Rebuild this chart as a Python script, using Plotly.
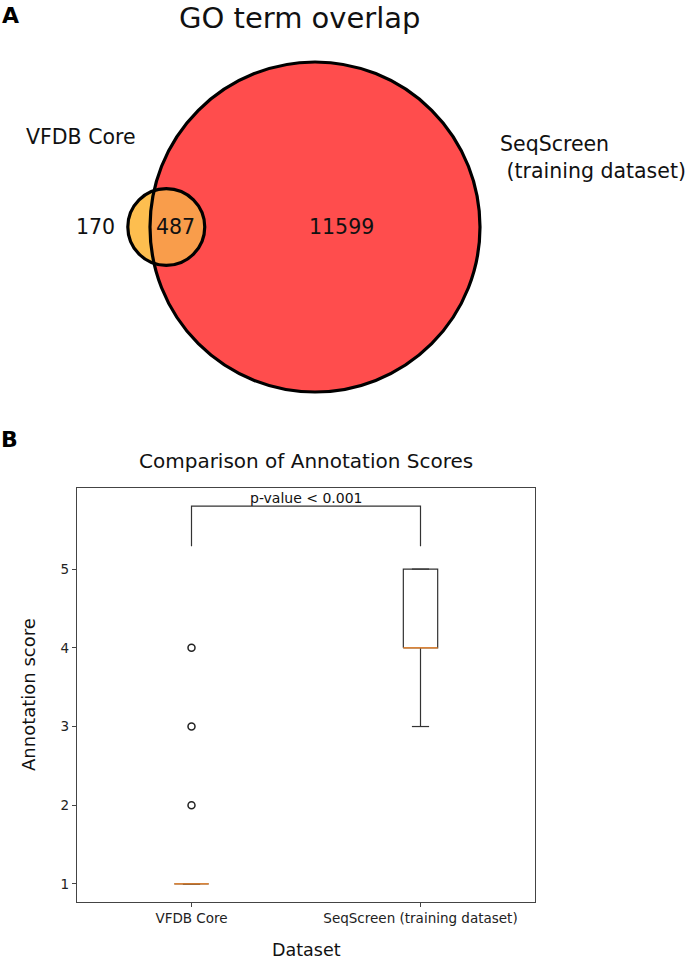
import numpy as np
import plotly.graph_objects as go

# ---------------- data ----------------
venn_title = "GO term overlap"
set_names = ["VFDB Core", "SeqScreen<br>&nbsp;(training dataset)"]
only_a = 170          # VFDB Core only
both = 487            # shared
only_b = 11599        # SeqScreen only

box_title = "Comparison of Annotation Scores"
datasets = ["VFDB Core", "SeqScreen (training dataset)"]
positions = [1, 2]
q1 = [1, 4]
median = [1, 4]
q3 = [1, 5]
whisker_low = [1, 3]
whisker_high = [1, 5]
outliers = [[2, 3, 4], []]
y_ticks = [1, 2, 3, 4, 5]
p_text = "p-value < 0.001"
bracket_low, bracket_high = 5.29, 5.8

FONT = "DejaVu Sans"
W, H = 685, 960

# ---------------- venn geometry (area proportional) ----------------
ra = np.sqrt((only_a + both) / np.pi)
rb = np.sqrt((only_b + both) / np.pi)


def lens_area(d):
    a1 = ra**2 * np.arccos(np.clip((d**2 + ra**2 - rb**2) / (2 * d * ra), -1, 1))
    a2 = rb**2 * np.arccos(np.clip((d**2 + rb**2 - ra**2) / (2 * d * rb), -1, 1))
    t = (-d + ra + rb) * (d + ra - rb) * (d - ra + rb) * (d + ra + rb)
    return a1 + a2 - 0.5 * np.sqrt(max(t, 0))


lo, hi = rb - ra + 1e-9, rb + ra - 1e-9
for _ in range(200):
    mid = 0.5 * (lo + hi)
    if lens_area(mid) > both:
        lo = mid
    else:
        hi = mid
d = 0.5 * (lo + hi)
xa, xb = -d, 0.0

# lens outline
xi = (ra**2 - rb**2 - d**2) / (2 * d)
yi = np.sqrt(rb**2 - xi**2)
tb = np.arctan2(yi, xi)
ang_b = np.linspace(tb, 2 * np.pi - tb, 80)
ang_a0 = np.arctan2(-yi, xi - xa)
ang_a = np.linspace(ang_a0, -ang_a0, 80)
lx = np.concatenate([xb + rb * np.cos(ang_b), xa + ra * np.cos(ang_a)])
ly = np.concatenate([rb * np.sin(ang_b), ra * np.sin(ang_a)])
lens_path = "M " + " L ".join(f"{x:.4f},{y:.4f}" for x, y in zip(lx, ly)) + " Z"

k = 165.0 / rb  # px per unit
cx_px, cy_px, top_h = 315.0, 227.0, 420.0

fig = go.Figure()

fig.add_trace(go.Scatter(x=[0], y=[0], mode="markers", marker=dict(opacity=0),
                         xaxis="x", yaxis="y", hoverinfo="skip", showlegend=False))

shapes = [
    dict(type="circle", xref="x", yref="y", x0=xb - rb, x1=xb + rb, y0=-rb, y1=rb,
         fillcolor="#FF4D4D", line=dict(width=0), layer="below"),
    dict(type="circle", xref="x", yref="y", x0=xa - ra, x1=xa + ra, y0=-ra, y1=ra,
         fillcolor="#FDBE4F", line=dict(width=0), layer="below"),
    dict(type="path", xref="x", yref="y", path=lens_path,
         fillcolor="#F99D4B", line=dict(width=0), layer="below"),
    dict(type="circle", xref="x", yref="y", x0=xb - rb, x1=xb + rb, y0=-rb, y1=rb,
         line=dict(color="black", width=3.2), layer="above"),
    dict(type="circle", xref="x", yref="y", x0=xa - ra, x1=xa + ra, y0=-ra, y1=ra,
         line=dict(color="black", width=3.2), layer="above"),
]


def px(x, y):
    """reference-pixel -> paper coordinates"""
    return x / W, 1 - y / H


def text_ann(x, y, text, size, **kw):
    xx, yy = px(x, y)
    base = dict(x=xx, y=yy, xref="paper", yref="paper", text=text, showarrow=False,
                xanchor="center", yanchor="middle",
                font=dict(family=FONT, size=size, color="#111"))
    base.update(kw)
    return base


VS = 20.5
ann = []
ann.append(dict(x=xa - ra - 32 / k, y=0, xref="x", yref="y", text=str(only_a), showarrow=False,
                xanchor="center", yanchor="middle", font=dict(family=FONT, size=VS, color="#111")))
ann.append(dict(x=xa + ra * 0.25, y=0, xref="x", yref="y", text=str(both), showarrow=False,
                xanchor="center", yanchor="middle", font=dict(family=FONT, size=VS, color="#111")))
ann.append(dict(x=26 / k, y=0, xref="x", yref="y", text=str(only_b), showarrow=False,
                xanchor="center", yanchor="middle", font=dict(family=FONT, size=VS, color="#111")))
ann.append(text_ann(81, 137, set_names[0], VS))
ann.append(text_ann(498, 158, set_names[1], VS, xanchor="left", align="left"))
ann.append(text_ann(300, 0, venn_title, 29, yanchor="top", borderpad=0))
ann.append(text_ann(10, 15, "<b>A</b>", 22, font=dict(family=FONT, size=22, color="#000")))
ann.append(text_ann(9, 439, "<b>B</b>", 22, font=dict(family=FONT, size=22, color="#000")))

# ---------------- box plot ----------------
LC = "#333333"
w = 0.075
bx, by, wx, wy, cxs, cys, mx, my = [], [], [], [], [], [], [], []
ox, oy = [], []
for i, p in enumerate(positions):
    bx += [p - w, p + w, p + w, p - w, p - w, None]
    by += [q1[i], q1[i], q3[i], q3[i], q1[i], None]
    wx += [p, p, None, p, p, None]
    wy += [q1[i], whisker_low[i], None, q3[i], whisker_high[i], None]
    cxs += [p - w / 2, p + w / 2, None, p - w / 2, p + w / 2, None]
    cys += [whisker_low[i], whisker_low[i], None, whisker_high[i], whisker_high[i], None]
    mx += [p - w, p + w, None]
    my += [median[i], median[i], None]
    ox += [p] * len(outliers[i])
    oy += outliers[i]

common = dict(xaxis="x2", yaxis="y2", hoverinfo="skip", showlegend=False)
fig.add_trace(go.Scatter(x=wx, y=wy, mode="lines", line=dict(color=LC, width=1.2), **common))
fig.add_trace(go.Scatter(x=cxs, y=cys, mode="lines", line=dict(color=LC, width=1.2), **common))
fig.add_trace(go.Scatter(x=bx, y=by, mode="lines", line=dict(color=LC, width=1.2), **common))
fig.add_trace(go.Scatter(x=mx, y=my, mode="lines", line=dict(color="#FF8F2E", width=1.3), **common))
fig.add_trace(go.Scatter(x=ox, y=oy, mode="markers",
                         marker=dict(symbol="circle-open", size=7, color="#222",
                                     line=dict(width=1.5, color="#222")), **common))
fig.add_trace(go.Scatter(x=[positions[0], positions[0], positions[1], positions[1]],
                         y=[bracket_low, bracket_high, bracket_high, bracket_low],
                         mode="lines", line=dict(color=LC, width=1.2), **common))
ann.append(dict(x=(positions[0] + positions[1]) / 2, y=bracket_high, xref="x2", yref="y2",
                text=p_text, showarrow=False, xanchor="center", yanchor="bottom", yshift=-2,
                font=dict(family=FONT, size=14, color="#111")))

ann.append(text_ann(306, 461, box_title, 20))
ann.append(text_ann(28, 695, "Annotation score", 18, textangle=-90))
ann.append(text_ann(306, 950, "Dataset", 17.5))

axis_common = dict(showline=True, linecolor="#444", linewidth=1.2, mirror=True,
                   ticks="outside", ticklen=4, tickwidth=1, tickcolor="#444",
                   showgrid=False, zeroline=False, automargin=False,
                   tickfont=dict(family=FONT, size=13.5, color="#222"))

fig.update_layout(
    width=W, height=H,
    margin=dict(l=0, r=0, t=0, b=0),
    paper_bgcolor="white", plot_bgcolor="white",
    shapes=shapes, annotations=ann,
    xaxis=dict(domain=[0, 1], range=[-cx_px / k, (W - cx_px) / k], visible=False,
               fixedrange=True, automargin=False),
    yaxis=dict(domain=[1 - top_h / H, 1], range=[-(top_h - cy_px) / k, cy_px / k], visible=False,
               fixedrange=True, automargin=False),
    xaxis2=dict(domain=[77 / W, 535 / W], range=[0.5, 2.5], tickvals=positions,
                ticktext=datasets, anchor="y2", **axis_common),
    yaxis2=dict(domain=[1 - 902 / H, 1 - 488 / H], range=[0.771, 6.03],
                tickvals=y_ticks, anchor="x2", **axis_common),
)

fig.write_html("out.html", config={"displayModeBar": False},
               post_script="document.body.style.margin='0px';")
